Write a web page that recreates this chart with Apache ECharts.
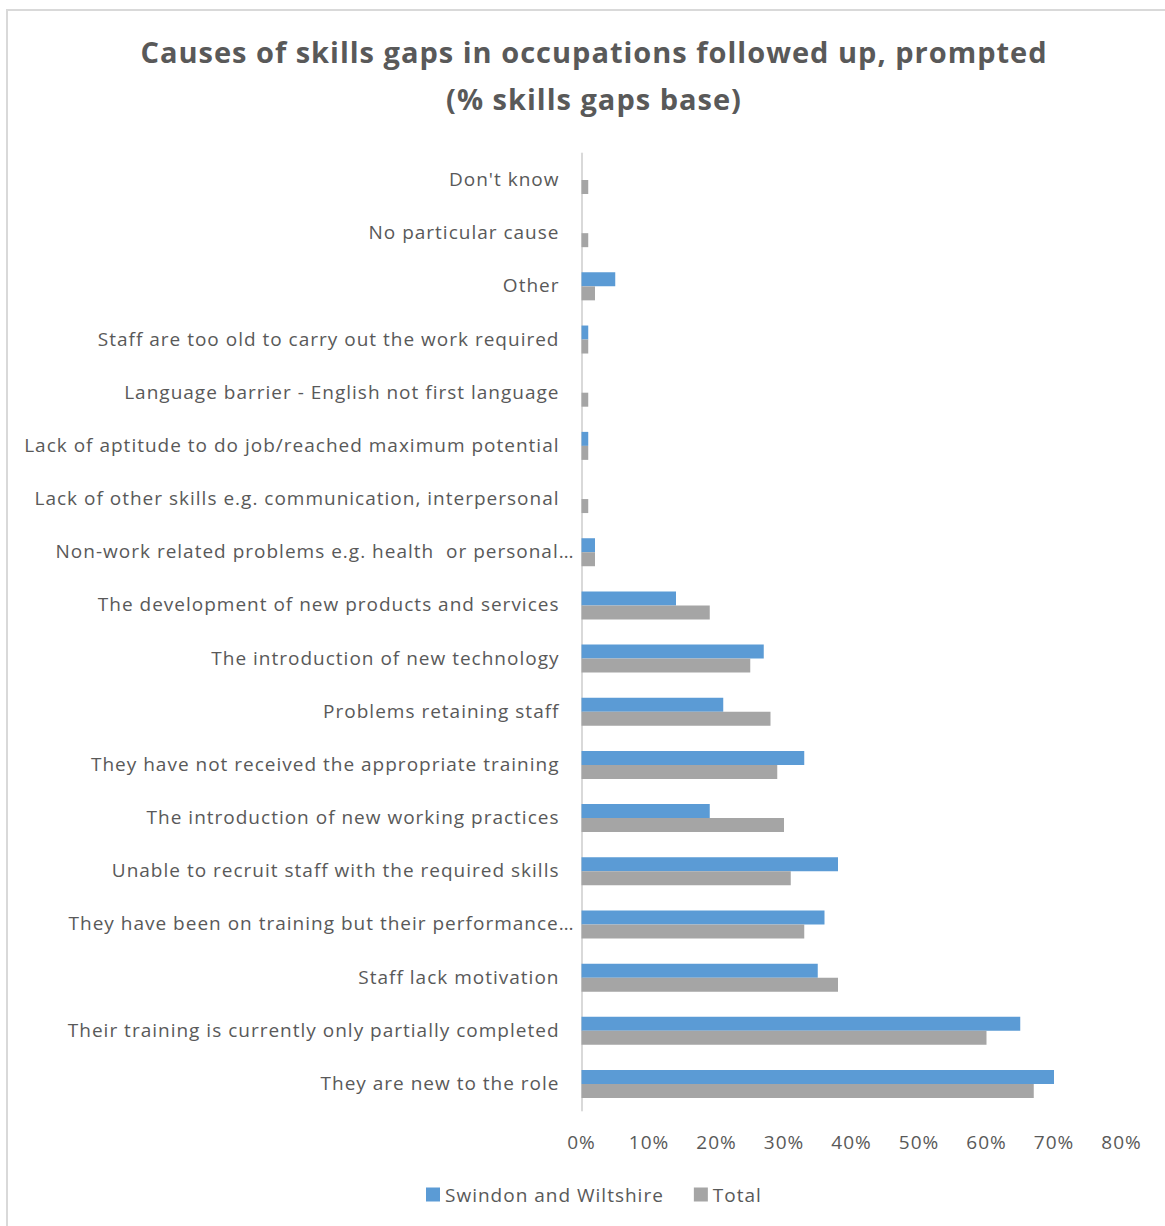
<!DOCTYPE html>
<html>
<head>
<meta charset="utf-8">
<script src="https://cdn.jsdelivr.net/npm/echarts@6/dist/echarts.min.js"></script>
<style>
  html, body { margin: 0; padding: 0; background: #ffffff; }
  #chart { width: 1165px; height: 1226px; }
  /* slightly open tracking for all chart text */
  #chart text { letter-spacing: 1px; }
</style>
</head>
<body>
<div id="chart"></div>
<script>
// Categories listed bottom-to-top (category axis starts at the bottom)
const categories = [
  'They are new to the role',
  'Their training is currently only partially completed',
  'Staff lack motivation',
  'They have been on training but their performance\u2026',
  'Unable to recruit staff with the required skills',
  'The introduction of new working practices',
  'They have not received the appropriate training',
  'Problems retaining staff',
  'The introduction of new technology',
  'The development of new products and services',
  'Non-work related problems e.g. health  or personal\u2026',
  'Lack of other skills e.g. communication, interpersonal',
  'Lack of aptitude to do job/reached maximum potential',
  'Language barrier - English not first language',
  'Staff are too old to carry out the work required',
  'Other',
  'No particular cause',
  "Don't know"
];

// Percentages of skills gaps
const swindonWiltshire = [70, 65, 35, 36, 38, 19, 33, 21, 27, 14, 2, 0, 1, 0, 1, 5, 0, 0];
const total            = [67, 60, 38, 33, 31, 30, 29, 28, 25, 19, 2, 1, 1, 1, 1, 2, 1, 1];

const seriesNames = ['Swindon and Wiltshire', 'Total'];
const titleLines = ['Causes of skills gaps in occupations followed up, prompted', '(% skills gaps base)'];

// Value axis: 0% .. 80% in steps of 10%
const xMin = 0, xMax = 80, xStep = 10;

const FONT = '"Open Sans", Lato, sans-serif';
const TEXT = '#595959';

const chart = echarts.init(document.getElementById('chart'), null, { renderer: 'svg' });

chart.setOption({
  backgroundColor: '#ffffff',
  animation: false,
  graphic: [{
    type: 'rect',
    silent: true,
    shape: { x: 7, y: 10, width: 1200, height: 1300 },
    style: { fill: 'none', stroke: '#d9d9d9', lineWidth: 2 }
  }],
  title: {
    text: titleLines.join('\n'),
    left: 589,
    top: 23,
    textAlign: 'center',
    textStyle: {
      fontFamily: FONT,
      fontSize: 29,
      fontWeight: 'bold',
      color: TEXT,
      lineHeight: 47
    }
  },
  legend: {
    data: seriesNames,
    left: 426,
    top: 1185,
    padding: 0,
    icon: 'rect',
    itemWidth: 14,
    itemHeight: 14,
    itemGap: 51,
    textStyle: { fontFamily: FONT, fontSize: 19, color: TEXT }
  },
  grid: {
    left: 581.5,
    right: 43.5,
    top: 153.4,
    bottom: 115.4,
    containLabel: false,
    outerBoundsMode: 'none'
  },
  xAxis: {
    type: 'value',
    min: xMin,
    max: xMax,
    interval: xStep,
    axisLine: { show: false },
    axisTick: { show: false },
    splitLine: { show: false },
    axisLabel: {
      margin: 22,
      fontFamily: FONT,
      fontSize: 19,
      color: TEXT,
      formatter: v => v + '%'
    }
  },
  yAxis: {
    type: 'category',
    data: categories,
    axisLine: { show: true, lineStyle: { color: '#d9d9d9', width: 2 } },
    axisTick: { show: false },
    splitLine: { show: false },
    axisLabel: {
      margin: 7,
      fontFamily: FONT,
      fontSize: 19,
      color: TEXT,
      formatter: v => (v.endsWith('\u2026') ? '{t|' + v + '}' : '{n|' + v + '}'),
      rich: {
        n: { fontFamily: FONT, fontSize: 19, color: TEXT, padding: [0, 15, 2, 0] },
        t: { fontFamily: FONT, fontSize: 19, color: TEXT, padding: [0, 0, 2, 0] }
      }
    }
  },
  series: [
    {
      name: seriesNames[0],
      type: 'bar',
      data: swindonWiltshire,
      barWidth: 14,
      barGap: '0%',
      itemStyle: { color: '#5B9BD5' }
    },
    {
      name: seriesNames[1],
      type: 'bar',
      data: total,
      barWidth: 14,
      barGap: '0%',
      itemStyle: { color: '#A5A5A5' }
    }
  ]
});
</script>
</body>
</html>
